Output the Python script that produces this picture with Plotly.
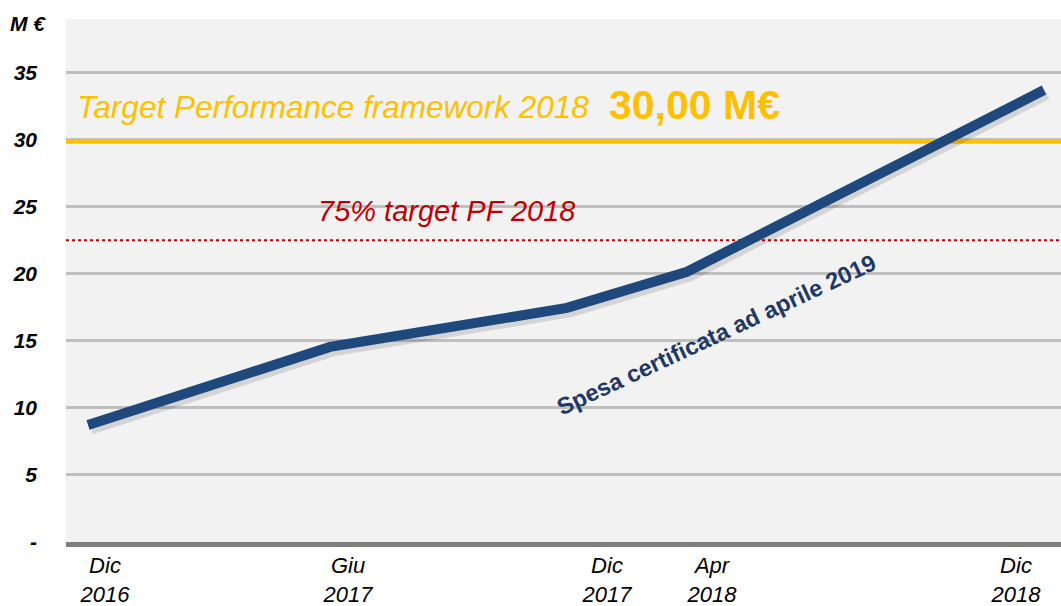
import plotly.graph_objects as go

# Data
periods = ["Dic 2016", "Giu 2017", "Dic 2017", "Apr 2018", "Dic 2018"]
tick_labels = ["Dic<br>2016", "Giu<br>2017", "Dic<br>2017", "Apr<br>2018", "Dic<br>2018"]
x_points = [22, 264, 501, 621, 978]        # position of each period on the axis
x_label_pos = [39, 282, 541, 646, 950]     # position of each period label
spesa = [8.73, 14.55, 17.46, 20.15, 33.7]  # M€
target_pf = 29.85
target_75 = 22.5
y_ticks = [0, 5, 10, 15, 20, 25, 30, 35]
y_tick_text = ["-", "5", "10", "15", "20", "25", "30", "35"]

FONT = "Arial, Liberation Sans, sans-serif"

fig = go.Figure()

# target line
fig.add_trace(go.Scatter(x=[0, 995], y=[target_pf, target_pf], mode="lines",
                         line=dict(color="#FFC000", width=4), hoverinfo="skip", showlegend=False))
# 75% target line
fig.add_trace(go.Scatter(x=[0, 995], y=[target_75, target_75], mode="lines",
                         line=dict(color="#C00000", width=2, dash="dot"), hoverinfo="skip", showlegend=False))
# shadow of main line
fig.add_trace(go.Scatter(x=[v + 3 for v in x_points], y=[v - 0.3 for v in spesa], mode="lines",
                         line=dict(color="rgba(0,0,0,0.12)", width=11), hoverinfo="skip", showlegend=False))
# main line
fig.add_trace(go.Scatter(x=x_points, y=spesa, mode="lines", text=periods,
                         line=dict(color="#1F497D", width=10), showlegend=False))

fig.add_annotation(x=9, y=32.46, text="<i>Target Performance framework 2018</i>", showarrow=False,
                   xanchor="left", yanchor="middle", font=dict(family=FONT, size=31.5, color="#FFC000"))
fig.add_annotation(x=541, y=32.6, text="<b>30,00 M€</b>", showarrow=False,
                   xanchor="left", yanchor="middle", font=dict(family=FONT, size=41, color="#FFC000"))
fig.add_annotation(x=250, y=24.7, text="<i>75% target PF 2018</i>", showarrow=False,
                   xanchor="left", yanchor="middle", font=dict(family=FONT, size=29, color="#C00000"))
fig.add_annotation(x=650, y=15.45, text="<b>Spesa certificata ad aprile 2019</b>", showarrow=False,
                   textangle=-25, font=dict(family=FONT, size=23.5, color="#1F3864"))
fig.add_annotation(x=-38 / 995, y=1.0, xref="paper", yref="paper", text="<b><i>M €</i></b>", showarrow=False,
                   xanchor="center", yanchor="middle", yshift=-4,
                   font=dict(family=FONT, size=21, color="black"))

fig.update_layout(
    width=1061, height=606,
    margin=dict(l=66, r=0, t=19, b=64),
    paper_bgcolor="white", plot_bgcolor="#F2F2F2",
    xaxis=dict(range=[0, 995], tickmode="array", tickvals=x_label_pos, ticktext=tick_labels,
               showgrid=False, zeroline=False, showline=True, linecolor="#7F7F7F", linewidth=5,
               ticks="", ticklabelstandoff=0, automargin=False,
               tickfont=dict(family=FONT, size=22, color="black", style="italic")),
    yaxis=dict(range=[0, 39], tickmode="array", tickvals=y_ticks, ticktext=y_tick_text,
               showgrid=True, gridcolor="#BFBFBF", gridwidth=3, zeroline=False, showline=False,
               ticks="", ticklabelstandoff=28, automargin=False,
               tickfont=dict(family=FONT, size=21, color="black", weight="bold", style="italic")),
)

fig.write_html("out.html", config={"displayModeBar": False},
               post_script="document.body.style.margin='0px';")
